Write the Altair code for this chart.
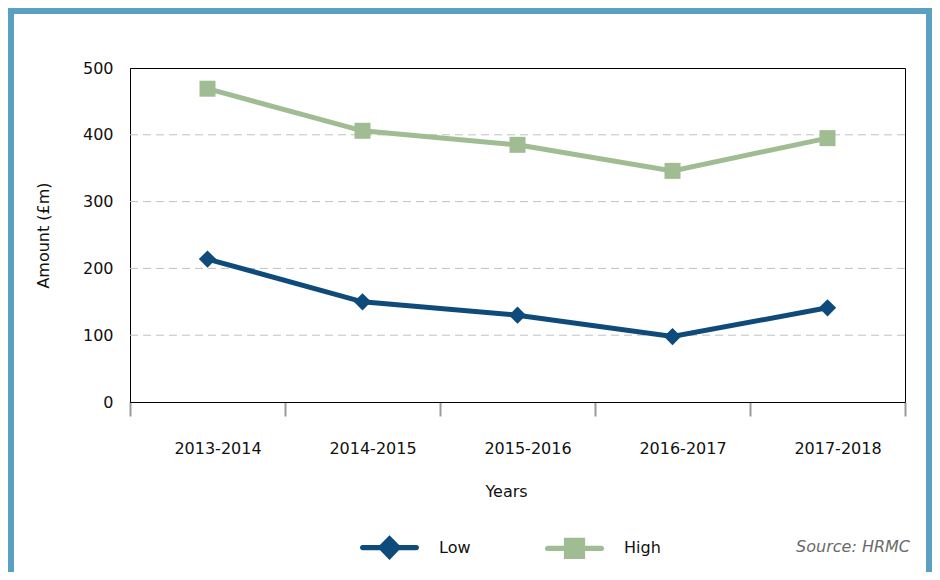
import altair as alt
import pandas as pd

# ---- data ----
years = ["2013-2014", "2014-2015", "2015-2016", "2016-2017", "2017-2018"]
low_values = [214, 150, 130, 98, 141]
high_values = [469, 406, 385, 346, 395]
series_names = ["Low", "High"]
series_colors = ["#0E4B7B", "#A0BC92"]
y_ticks = [0, 100, 200, 300, 400, 500]
grid_values = [100, 200, 300, 400]
source_text = "Source: HRMC"
x_title = "Years"
y_title = "Amount (£m)"

rows = []
for s, vals in zip(series_names, [low_values, high_values]):
    for yr, v in zip(years, vals):
        rows.append({"year": yr, "series": s, "amount": v})
df = pd.DataFrame(rows)

W, H = 775, 334
PAD = {"left": 122, "top": 60, "right": 27, "bottom": 170}
FONT = "DejaVu Sans"
FRAME = "#5B9FC1"

# marks use a colour scale listed in reverse order so that its (disabled) legend
# is not merged with the fill/shape legend below
mark_color_scale = alt.Scale(domain=series_names[::-1], range=series_colors[::-1])
legend_color_scale = alt.Scale(domain=series_names, range=series_colors)
y_scale = alt.Scale(domain=[0, 500], nice=False, zero=True)
x_scale = alt.Scale(domain=years, paddingInner=0, paddingOuter=0)

x_axis = alt.Axis(
    title=x_title, tickBand="extent", labelOffset=10, labelAngle=0,
    tickSize=14, tickColor="#9A9A9A", tickWidth=2,
    domainColor="black", domainWidth=1,
    labelFont=FONT, labelFontSize=16, labelColor="#111111", labelPadding=24,
    titleFont=FONT, titleFontSize=16, titleFontWeight="normal", titleColor="#111111",
    titleX=376, titleY=89, titleBaseline="middle", titleAlign="center", grid=False,
)
y_axis = alt.Axis(
    title=y_title, values=y_ticks, ticks=False, grid=False,
    domainColor="black", domainWidth=1,
    labelFont=FONT, labelFontSize=16, labelColor="#111111", labelPadding=17,
    titleFont=FONT, titleFontSize=16, titleFontWeight="normal", titleColor="#111111",
    titleX=-87, titleY=H / 2, titleBaseline="middle", titleAlign="center",
)

X = alt.X("year:N", scale=x_scale, axis=x_axis)
Y = alt.Y("amount:Q", scale=y_scale, axis=y_axis, title=y_title)
C = alt.Color("series:N", scale=mark_color_scale, legend=None)

frame = alt.Chart(alt.Data(values=[{}])).mark_rect(
    fill="transparent", stroke=FRAME, strokeWidth=12
).encode(
    x=alt.value(-PAD["left"]), x2=alt.value(W + PAD["right"]),
    y=alt.value(-PAD["top"]), y2=alt.value(H + PAD["bottom"] + 30),
)

grid = alt.Chart(pd.DataFrame({"amount": grid_values})).mark_rule(
    color="#BEC2C6", strokeDash=[8, 5], strokeWidth=1
).encode(y=Y)

lines = alt.Chart(df).mark_line(strokeWidth=5).encode(x=X, y=Y, color=C, detail="series:N")

pts_low = alt.Chart(df).transform_filter(alt.datum.series == "Low").mark_point(
    filled=True, opacity=1, shape="diamond", size=300
).encode(x=X, y=Y, color=C)
pts_high = alt.Chart(df).transform_filter(alt.datum.series == "High").mark_point(
    filled=True, opacity=1, shape="square", size=256
).encode(x=X, y=Y, color=C)

# legend symbols: line with marker, in the unit box [-1,1]
line_part = "M-0.91,-0.09 L0.91,-0.09 A0.09,0.09 0 0 1 0.91,0.09 L-0.91,0.09 A0.09,0.09 0 0 1 -0.91,-0.09 Z"
legend_paths = [
    line_part + " M0,-0.42 L0.41,0 L0,0.42 L-0.41,0 Z",
    line_part + " M-0.36,-0.36 L0.36,-0.36 L0.36,0.36 L-0.36,0.36 Z",
]
legend_kw = dict(
    title=None, orient="none", legendX=230, legendY=450, direction="horizontal",
    symbolSize=3481, symbolStrokeWidth=0, labelFont=FONT, labelFontSize=16,
    labelColor="#111111", labelOffset=20, columnPadding=74, padding=0,
)
legend_layer = alt.Chart(pd.DataFrame({"series": series_names})).mark_point(
    filled=True, opacity=1, size=1
).encode(
    x=alt.value(-2000), y=alt.value(-2000),
    fill=alt.Fill("series:N", scale=legend_color_scale, legend=alt.Legend(**legend_kw)),
    shape=alt.Shape("series:N", scale=alt.Scale(domain=series_names, range=legend_paths),
                    legend=alt.Legend(**legend_kw)),
)

source = alt.Chart(alt.Data(values=[{}])).mark_text(
    text=source_text, align="right", baseline="middle", font=FONT, fontSize=16,
    fontStyle="italic", color="#6B6B6B"
).encode(x=alt.value(780), y=alt.value(479))

chart = alt.layer(
    frame, grid, lines, pts_low, pts_high, legend_layer, source
).properties(
    width=W, height=H,
    autosize=alt.AutoSizeParams(type="none"),
    padding=PAD,
).configure(
    font=FONT, background="white"
).configure_view(
    stroke="black", strokeWidth=1
)

chart.save("out.html", embed_options={"renderer": "svg", "actions": False})
